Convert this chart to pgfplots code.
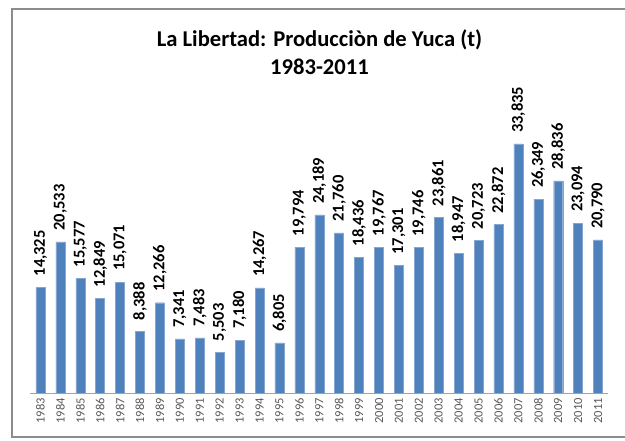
\documentclass[border=0pt]{standalone}
\usepackage{pgfplots}
\pgfplotsset{compat=1.18}
\usepackage{fontspec}
\setmainfont{Carlito}
\definecolor{barblue}{HTML}{4F81BD}
\definecolor{tickgray}{HTML}{595959}
\definecolor{framegray}{HTML}{8C8C8C}
\begin{document}
\begin{tikzpicture}[x=1pt,y=1pt]
\path[use as bounding box] (0,0) rectangle (625,441);
\draw[framegray,line width=1.3pt] (626,432) -- (12,432) -- (12,4) -- (626,4);
\node[anchor=base,font=\fontsize{22.6}{26}\selectfont\bfseries] at (319.5,394) {La Libertad: Producciòn de Yuca (t)};
\node[anchor=base,font=\fontsize{22.6}{26}\selectfont\bfseries] at (319.5,366) {1983-2011};
\begin{axis}[
  at={(30.5pt,48pt)}, anchor=south west,
  scale only axis, width=577.5pt, height=257.6pt,
  xmin=-0.5, xmax=28.5, ymin=0, ymax=35000,
  axis x line*=bottom, axis y line=none,
  x axis line style={draw=framegray!80, line width=0.9pt, -},
  xtick=data,
  xticklabels={1983,1984,1985,1986,1987,1988,1989,1990,1991,1992,1993,1994,1995,1996,1997,1998,1999,2000,2001,2002,2003,2004,2005,2006,2007,2008,2009,2010,2011},
  xticklabel style={rotate=90, anchor=east, font=\fontsize{12.5}{14}\selectfont, text=tickgray, inner xsep=5pt},
  major tick length=0pt,
  ybar, bar width=9pt,
  nodes near coords={\pgfmathprintnumber[fixed,precision=0,1000 sep={,},assume math mode=true]{\pgfplotspointmeta}},
  every node near coord/.append style={rotate=90, anchor=west, inner xsep=11pt, inner ysep=0pt, font=\fontsize{16.5}{18}\selectfont\bfseries, text=black},
  clip=false,
]
\addplot[fill=barblue, draw=barblue!70!white, line width=0.4pt] table[x=i,y=v] {
i v
0 14325
1 20533
2 15577
3 12849
4 15071
5 8388
6 12266
7 7341
8 7483
9 5503
10 7180
11 14267
12 6805
13 19794
14 24189
15 21760
16 18436
17 19767
18 17301
19 19746
20 23861
21 18947
22 20723
23 22872
24 33835
25 26349
26 28836
27 23094
28 20790
};
\end{axis}
\end{tikzpicture}
\end{document}
